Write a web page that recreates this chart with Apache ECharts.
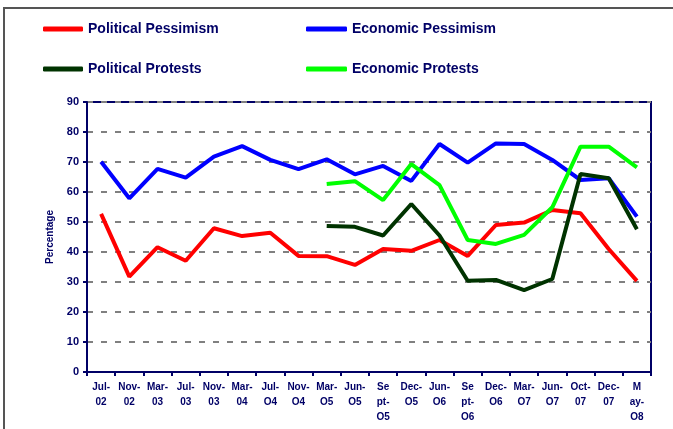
<!DOCTYPE html>
<html lang="en">
<head>
    <meta charset="UTF-8">
    <title>Pessimism and Protests</title>
    <style>
        html, body { margin: 0; padding: 0; background: #fff; }
        #main { width: 673px; height: 429px; }
    </style>
</head>
<body>
<div id="main"></div>
<script src="https://cdn.jsdelivr.net/npm/echarts@6/dist/echarts.min.js"></script>
<script>
    const myChart = echarts.init(document.getElementById('main'));

    // x axis categories (as printed on the chart)
    const categories = [
        'Jul-\n02', 'Nov-\n02', 'Mar-\n03', 'Jul-\n03', 'Nov-\n03', 'Mar-\n04', 'Jul-\nO4',
        'Nov-\nO4', 'Mar-\nO5', 'Jun-\nO5', 'Se\npt-\nO5', 'Dec-\nO5', 'Jun-\nO6',
        'Se\npt-\nO6', 'Dec-\nO6', 'Mar-\nO7', 'Jun-\nO7', 'Oct-\n07', 'Dec-\n07', 'M\nay-\nO8'
    ];

    const politicalPessimism = [52.7, 31.8, 41.6, 37.1, 47.9, 45.3, 46.4, 38.7, 38.6, 35.7,
        41.0, 40.4, 44.0, 38.7, 49.0, 49.8, 54.0, 52.9, 41.0, 30.4];
    const economicPessimism = [70.1, 57.9, 67.7, 64.8, 71.8, 75.3, 70.7, 67.6, 70.9, 65.9,
        68.7, 63.7, 76.0, 69.8, 76.2, 76.0, 70.7, 64.0, 64.6, 51.8];
    const politicalProtests = [null, null, null, null, null, null, null, null, 48.7, 48.4,
        45.5, 56.0, 45.5, 30.4, 30.7, 27.3, 31.0, 66.0, 64.6, 47.6];
    const economicProtests = [null, null, null, null, null, null, null, null, 62.7, 63.6,
        57.3, 69.3, 62.3, 44.0, 42.7, 45.7, 54.9, 75.1, 75.1, 68.2];

    const navy = '#000066';
    const font = 'Liberation Sans, Arial, sans-serif';

    function line(name, data, color) {
        return {
            name: name,
            type: 'line',
            data: data,
            symbol: 'none',
            connectNulls: false,
            lineStyle: { width: 4, color: color },
            itemStyle: { color: color }
        };
    }

    const legendText = { color: navy, fontSize: 14, fontWeight: 'bold', fontFamily: font };

    const option = {
        animation: false,
        backgroundColor: '#fff',
        graphic: [{
            type: 'rect',
            shape: { x: 4, y: 8, width: 720, height: 500 },
            style: { fill: 'none', stroke: '#555', lineWidth: 2 },
            silent: true
        }],
        legend: [{
            data: ['Political Pessimism', 'Political Protests'],
            orient: 'vertical',
            left: 43,
            top: 22,
            padding: 0,
            itemGap: 26,
            itemWidth: 40,
            itemHeight: 5,
            icon: 'roundRect',
            textStyle: legendText
        }, {
            data: ['Economic Pessimism', 'Economic Protests'],
            orient: 'vertical',
            left: 306,
            top: 22,
            padding: 0,
            itemGap: 26,
            itemWidth: 41,
            itemHeight: 5,
            icon: 'roundRect',
            textStyle: legendText
        }],
        grid: {
            left: 87,
            right: 22,
            top: 102,
            bottom: 57,
            show: true,
            borderColor: navy,
            borderWidth: 2,
            outerBoundsMode: 'none'
        },
        xAxis: {
            type: 'category',
            data: categories,
            boundaryGap: true,
            axisLine: { lineStyle: { color: navy, width: 2 } },
            axisTick: { show: true, length: 4, lineStyle: { color: navy, width: 2 } },
            axisLabel: {
                interval: 0,
                color: navy,
                fontSize: 10,
                fontWeight: 'bold',
                fontFamily: font,
                lineHeight: 15,
                margin: 8
            },
            splitLine: { show: false }
        },
        yAxis: {
            type: 'value',
            min: 0,
            max: 90,
            interval: 10,
            name: 'Percentage',
            nameLocation: 'middle',
            nameGap: 32,
            nameTextStyle: { color: navy, fontSize: 10, fontWeight: 'bold', fontFamily: font },
            axisLine: { show: true, lineStyle: { color: navy, width: 2 } },
            axisTick: { show: true, length: 4, lineStyle: { color: navy, width: 2 } },
            axisLabel: { color: navy, fontSize: 11, fontWeight: 'bold', fontFamily: font, margin: 8 },
            splitLine: { show: true, lineStyle: { color: '#808080', width: 2, type: [6, 8] } }
        },
        series: [
            line('Political Pessimism', politicalPessimism, '#ff0000'),
            line('Economic Pessimism', economicPessimism, '#0000ff'),
            line('Political Protests', politicalProtests, '#003300'),
            line('Economic Protests', economicProtests, '#00ff00')
        ]
    };

    myChart.setOption(option);
</script>
</body>
</html>
